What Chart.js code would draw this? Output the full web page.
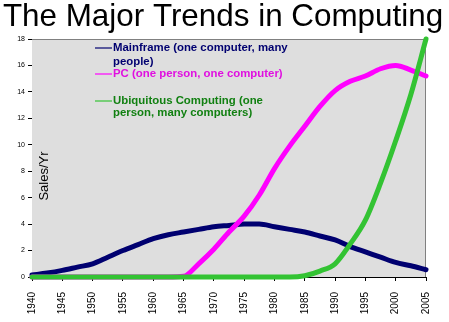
<!DOCTYPE html>
<html><head><meta charset="utf-8">
<script src="https://cdn.jsdelivr.net/npm/chart.js@4/dist/chart.umd.min.js"></script>
<style>html,body{margin:0;padding:0;background:#fff;}#wrap{width:449px;height:322px;}</style>
</head><body><div id="wrap"><canvas id="c" width="449" height="322"></canvas></div>
<script>
const years = [1940,1942.5,1945,1947.5,1950,1952.5,1955,1957.5,1960,1962.5,1965,1967.5,1970,1972.5,1975,1977.5,1980,1982.5,1985,1987.5,1990,1992.5,1995,1997.5,2000,2002.5,2005];
const mainframe = [0.15,0.3,0.5,0.75,1.0,1.5,2.0,2.45,2.9,3.2,3.4,3.6,3.8,3.9,4.0,4.0,3.8,3.6,3.4,3.1,2.8,2.3,1.9,1.5,1.1,0.85,0.55];
const pc = [0,0,0,0,0,0,0,0,0,0,0.05,1.0,2.1,3.4,4.6,6.2,8.2,9.9,11.4,12.9,14.1,14.8,15.2,15.75,16.0,15.65,15.2];
const ubiquitous = [0,0,0,0,0,0,0,0,0,0,0,0,0,0,0,0,0,0,0.1,0.45,1.0,2.5,4.3,7.1,10.3,13.8,18.0];
const xTicks = [1940,1945,1950,1955,1960,1965,1970,1975,1980,1985,1990,1995,2000,2005];
const yTicks = [0,2,4,6,8,10,12,14,16,18];
const titleText = 'The Major Trends in Computing';
const yTitle = 'Sales/Yr';
const seriesNames = ['Mainframe (one computer, many people)','PC (one person, one computer)','Ubiquitous Computing (one person, many computers)'];
const legendLines = [['Mainframe (one computer, many','people)'],['PC (one person, one computer)'],['Ubiquitous Computing (one','person, many computers)']];

const lineColors = ['#000070','#ff00ff','#33c333'];
const textColors = ['#000070','#e010e0','#128012'];

function pts(arr){ return years.map((y,i)=>({x:y,y:arr[i]})); }

const deco = {
  id:'deco',
  beforeDatasetsDraw(chart){
    const {ctx, chartArea:a} = chart;
    ctx.save();
    ctx.fillStyle = '#dedede';
    ctx.fillRect(a.left, a.top, a.right-a.left, a.bottom-a.top);
    ctx.strokeStyle = '#808080';
    ctx.lineWidth = 1;
    ctx.beginPath();
    ctx.moveTo(a.left, a.top+0.5); ctx.lineTo(a.right-0.5, a.top+0.5); ctx.lineTo(a.right-0.5, a.bottom);
    ctx.stroke();
    ctx.restore();
  },
  afterDraw(chart){
    const {ctx} = chart;
    ctx.save();
    ctx.fillStyle = '#000';
    ctx.font = '31.4px "Liberation Sans", Arial, sans-serif';
    ctx.textAlign = 'center';
    ctx.textBaseline = 'alphabetic';
    ctx.fillText(titleText, 223, 26);
    ctx.save();
    ctx.translate(44, 176);
    ctx.rotate(-Math.PI/2);
    ctx.font = '13px "Liberation Sans", Arial, sans-serif';
    ctx.textBaseline = 'middle';
    ctx.fillText(yTitle, 0, 0);
    ctx.restore();
    const rows = [[48,62],[74],[101,113]];
    ctx.font = 'bold 11.4px "Liberation Sans", Arial, sans-serif';
    ctx.textAlign = 'left';
    ctx.textBaseline = 'middle';
    legendLines.forEach((lines,i)=>{
      ctx.strokeStyle = lineColors[i];
      ctx.lineWidth = 1.2;
      ctx.beginPath();
      ctx.moveTo(95, rows[i][0]); ctx.lineTo(112, rows[i][0]);
      ctx.stroke();
      ctx.fillStyle = textColors[i];
      lines.forEach((t,j)=>ctx.fillText(t, 113, rows[i][j]));
    });
    ctx.restore();
  }
};

const orders = [3,2,1];
new Chart(document.getElementById('c'), {
  type:'line',
  data:{
    datasets:[mainframe, pc, ubiquitous].map((arr,i)=>({
      label: seriesNames[i],
      data: pts(arr),
      borderColor: lineColors[i],
      backgroundColor: lineColors[i],
      borderWidth: 5,
      pointRadius: 0,
      cubicInterpolationMode: 'monotone',
      borderCapStyle: 'round',
      borderJoinStyle: 'round',
      clip: 8,
      order: orders[i]
    }))
  },
  options:{
    responsive:false,
    animation:false,
    layout:{padding:{top:39,left:0,right:21,bottom:0}},
    plugins:{legend:{display:false}, title:{display:false}, tooltip:{enabled:false}},
    scales:{
      x:{
        type:'linear', min:1940, max:2005,
        afterBuildTicks(s){ s.ticks = xTicks.map(v=>({value:v})); },
        afterFit(s){ s.height = 45; },
        ticks:{ autoSkip:false, maxRotation:90, minRotation:90, color:'#000', padding:11,
          font:{size:10, family:'"Liberation Sans", Arial, sans-serif'},
          callback:(v)=>String(v) },
        grid:{ display:true, drawOnChartArea:false, drawTicks:true, tickLength:4, color:'#000' },
        border:{ display:true, color:'#000', width:1 }
      },
      y:{
        min:0, max:18,
        afterBuildTicks(s){ s.ticks = yTicks.map(v=>({value:v})); },
        afterFit(s){ s.width = 32; },
        ticks:{ color:'#000', padding:3, font:{size:7, family:'"Liberation Sans", Arial, sans-serif'} },
        grid:{ display:true, drawOnChartArea:false, drawTicks:true, tickLength:4, color:'#000' },
        border:{ display:true, color:'#000', width:1 }
      }
    }
  },
  plugins:[deco]
});
</script>
</body></html>
